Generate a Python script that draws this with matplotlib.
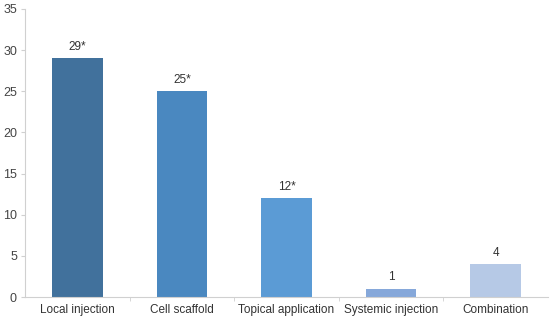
import matplotlib.pyplot as plt

categories = ['Local injection', 'Cell scaffold', 'Topical application', 'Systemic injection', 'Combination']
counts = [29, 25, 12, 1, 4]
bar_labels = ['29*', '25*', '12*', '1', '4']
colors = ['#41719c', '#4a88c0', '#5b9bd5', '#86a8da', '#b6c9e6']

plt.rcParams['font.family'] = ['Liberation Sans', 'DejaVu Sans']

fig = plt.figure(figsize=(5.5, 3.18), dpi=100)
ax = fig.add_axes([0.046, 0.066, 0.95, 0.906])

x = range(len(categories))
bars = ax.bar(x, counts, width=0.48, color=colors)
for bar, label in zip(bars, bar_labels):
    ax.annotate(label, (bar.get_x() + bar.get_width() / 2, bar.get_height()),
                xytext=(0, 4), textcoords='offset points', ha='center', va='bottom',
                fontsize=8.5, color='#333333')

ax.set_xlim(-0.5, len(categories) - 0.5)
ax.set_ylim(0, 35)
ax.set_yticks(range(0, 36, 5))
ax.set_xticks(x)
ax.set_xticklabels(categories)
ax.set_xticks([i + 0.5 for i in range(len(categories) - 1)], minor=True)

for side in ['top', 'right']:
    ax.spines[side].set_visible(False)
for side in ['left', 'bottom']:
    ax.spines[side].set_color('#d0d0d0')
    ax.spines[side].set_linewidth(0.8)

ax.tick_params(axis='x', which='major', length=0, labelsize=8.5, labelcolor='#333333', pad=5)
ax.tick_params(axis='x', which='minor', length=3, color='#d0d0d0')
ax.tick_params(axis='y', length=3, color='#d0d0d0', labelsize=9, labelcolor='#444444', pad=3)

fig.savefig('out.png', dpi=100)
